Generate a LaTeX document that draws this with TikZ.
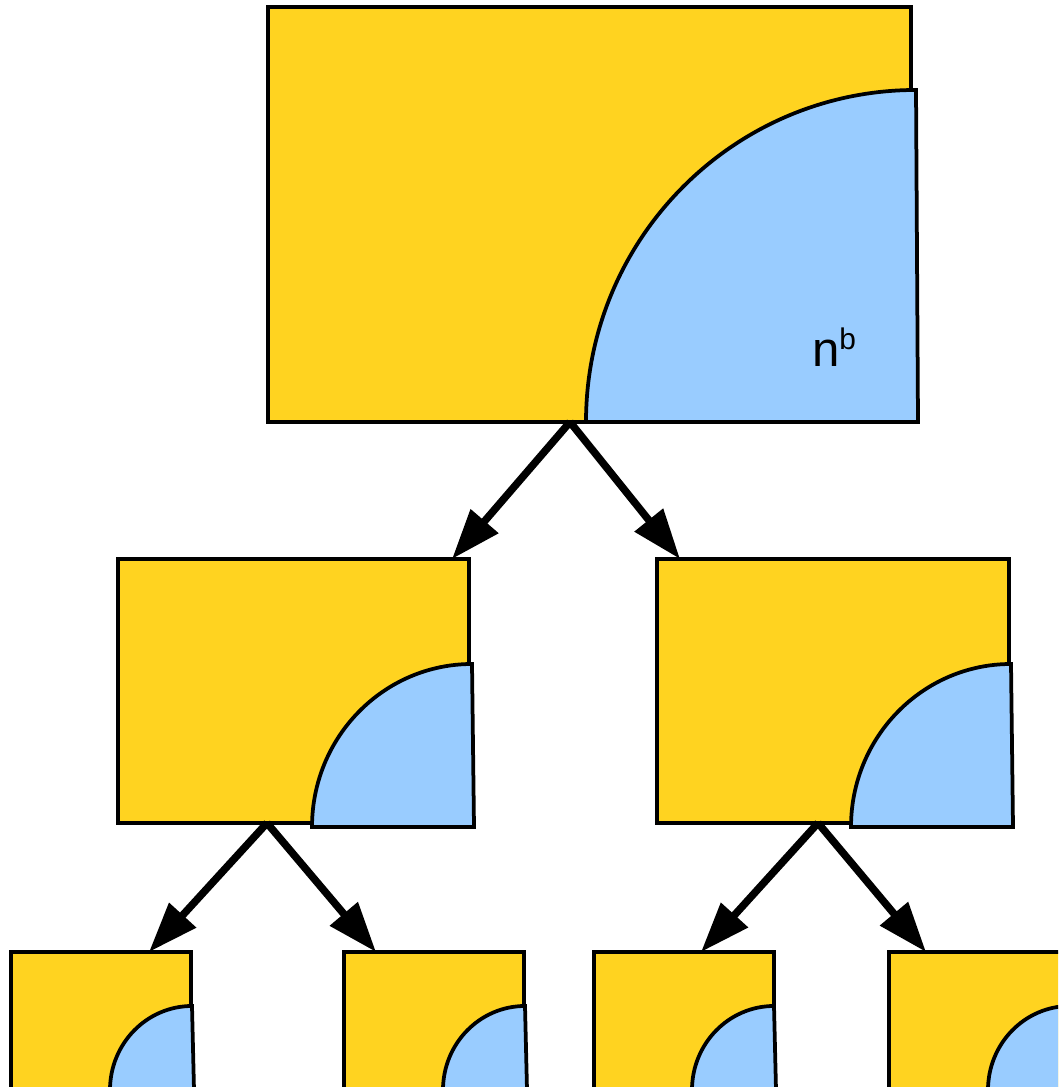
\documentclass[tikz,border=0pt]{standalone}
\usepackage{fontspec}
\setmainfont{Liberation Sans}
\usepackage{tikz}
\usetikzlibrary{arrows.meta}

\definecolor{boxyellow}{HTML}{FFD320}
\definecolor{partblue}{HTML}{99CCFF}

\begin{document}
\begin{tikzpicture}[
    x=0.2mm, y=0.2mm,
    box/.style={draw, fill=boxyellow, line width=0.75mm, outer sep=0pt, inner sep=0pt, anchor=north west},
    quarter/.style={draw, fill=partblue, line width=0.75mm},
    line/.style={-{Triangle[length=10mm, width=7mm]}, line width=1.5mm}
]
\useasboundingbox (0,0) rectangle (1058,1087);
\clip (0,0) rectangle (1058,1087);

% Root of the recursion tree.
\node[box, minimum width=128.6mm, minimum height=83mm] (root) at (268,1080) {};
\draw[quarter] (586,665) arc[start angle=180, end angle=90, x radius=66mm, y radius=66.4mm] -- (918,665) -- cycle;
\node[font=\fontsize{28}{30}\selectfont, inner sep=0pt] (nb) at (834,740) {n\raisebox{10pt}{\fontsize{17}{19}\selectfont b}};

% Second level.
\node[box, minimum width=70.2mm, minimum height=52.8mm] (left) at (118,528) {};
\draw[quarter] (312,260) arc[start angle=180, end angle=90, x radius=32mm, y radius=32.6mm] -- (474,260) -- cycle;
\node[box, minimum width=70.4mm, minimum height=52.8mm] (right) at (657,528) {};
\draw[quarter] (851,260) arc[start angle=180, end angle=90, x radius=32mm, y radius=32.6mm] -- (1013,260) -- cycle;

% Third level, cut off by the page edge.
\node[box, minimum width=36mm, minimum height=28mm] (leftleft) at (11,135) {};
\draw[quarter] (110,-3) arc[start angle=180, end angle=90, x radius=16.4mm, y radius=16.8mm] -- (194,-3) -- cycle;
\node[box, minimum width=36mm, minimum height=28mm] (leftright) at (344,135) {};
\draw[quarter] (443,-3) arc[start angle=180, end angle=90, x radius=16.4mm, y radius=16.8mm] -- (527,-3) -- cycle;
\node[box, minimum width=36mm, minimum height=28mm] (rightleft) at (594,135) {};
\draw[quarter] (692,-3) arc[start angle=180, end angle=90, x radius=16.4mm, y radius=16.8mm] -- (776,-3) -- cycle;
\node[box, minimum width=36.2mm, minimum height=28mm] (rightright) at (889,135) {};
\draw[quarter] (988,-3) arc[start angle=180, end angle=90, x radius=16.4mm, y radius=16.8mm] -- (1072,-3) -- cycle;

% Arrows.
\draw[line] ([xshift=-3.9mm]root.south) -- ([xshift=-3.4mm]left.north east);
\draw[line] ([xshift=-3.9mm]root.south) -- ([xshift=4.6mm]right.north west);
\draw[line] ([xshift=-5.3mm]left.south) -- ([xshift=-8.4mm]leftleft.north east);
\draw[line] ([xshift=-5.3mm]left.south) -- ([xshift=6.4mm]leftright.north west);
\draw[line] ([xshift=-3mm]right.south) -- ([xshift=-14.6mm]rightleft.north east);
\draw[line] ([xshift=-3mm]right.south) -- ([xshift=7.4mm]rightright.north west);

\end{tikzpicture}
\end{document}
